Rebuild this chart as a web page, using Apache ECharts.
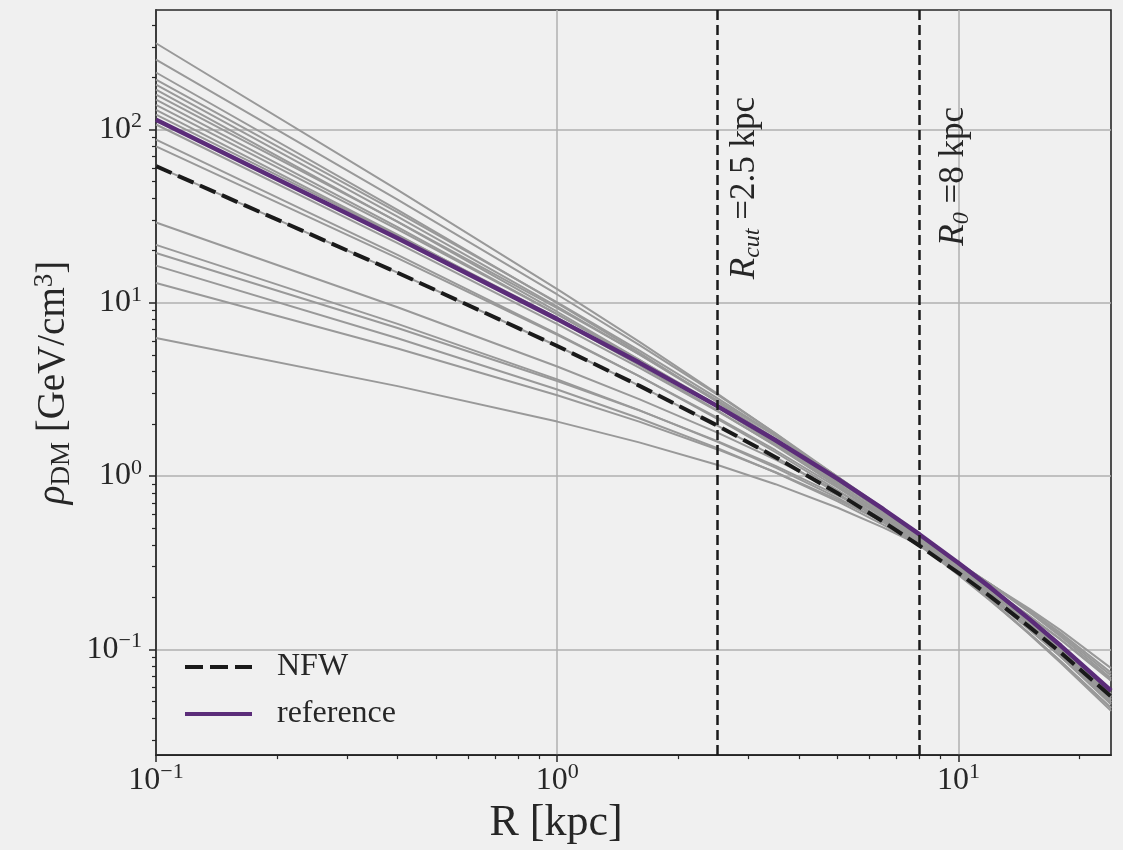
<!DOCTYPE html>
<html>
<head>
<meta charset="utf-8">
<script src="https://cdn.jsdelivr.net/npm/echarts@6/dist/echarts.min.js"></script>
<style>
  html, body { margin: 0; padding: 0; background: #f0f0f0; }
  #chart { width: 1123px; height: 850px; }
</style>
</head>
<body>
<div id="chart"></div>
<script>
// Radii (kpc) at which the profiles are sampled
const radii = [0.1, 0.4, 1, 1.6, 2.5, 3.5, 5, 6.5, 8, 10, 12, 15, 18, 24];

// Dark-matter density profiles (GeV/cm^3)
const nfwProfile = [61.5, 14.92, 5.633, 3.327, 1.962, 1.285, 0.7949, 0.5442, 0.396, 0.2760, 0.2021, 0.1351, 0.09556, 0.05346];
const referenceProfile = [114, 23.61, 8.05, 4.517, 2.542, 1.609, 0.962, 0.6432, 0.46, 0.3149, 0.2276, 0.1498, 0.1047, 0.05763];
const sampleProfiles = [
  [315, 44.86, 11.99, 5.965, 3.005, 1.756, 0.968, 0.6124, 0.42, 0.2757, 0.1929, 0.1224, 0.08324, 0.04409],
  [253, 39.42, 11.17, 5.720, 2.959, 1.763, 0.991, 0.6351, 0.44, 0.2917, 0.2057, 0.1317, 0.09016, 0.04819],
  [213.5, 34.39, 9.96, 5.156, 2.694, 1.616, 0.9154, 0.5896, 0.41, 0.2729, 0.1930, 0.1240, 0.08504, 0.04562],
  [194, 33.31, 10.06, 5.314, 2.829, 1.721, 0.988, 0.6425, 0.45, 0.3016, 0.2145, 0.1387, 0.09559, 0.05161],
  [181.5, 31.40, 9.52, 5.043, 2.690, 1.639, 0.9424, 0.6135, 0.43, 0.2884, 0.2052, 0.1327, 0.09157, 0.04948],
  [170, 29.34, 8.88, 4.700, 2.506, 1.526, 0.877, 0.5708, 0.40, 0.2683, 0.1909, 0.1235, 0.08510, 0.04598],
  [159, 29.43, 9.32, 5.047, 2.747, 1.698, 0.9906, 0.6514, 0.46, 0.3109, 0.2225, 0.1449, 0.1004, 0.05465],
  [149, 27.33, 8.61, 4.647, 2.523, 1.557, 0.9066, 0.5953, 0.42, 0.2836, 0.2028, 0.1319, 0.09141, 0.04969],
  [139, 26.52, 8.57, 4.684, 2.573, 1.601, 0.9400, 0.6210, 0.44, 0.2985, 0.2141, 0.1399, 0.09716, 0.05303],
  [130, 24.77, 8.00, 4.370, 2.400, 1.492, 0.8763, 0.5786, 0.41, 0.2780, 0.1995, 0.1302, 0.09050, 0.04938],
  [122, 24.51, 8.19, 4.552, 2.539, 1.597, 0.9486, 0.6314, 0.45, 0.3070, 0.2212, 0.1453, 0.1013, 0.05557],
  [107, 22.13, 7.54, 4.228, 2.378, 1.505, 0.8996, 0.6014, 0.43, 0.2943, 0.2127, 0.1400, 0.09783, 0.05384],
  [87.6, 18.92, 6.62, 3.770, 2.147, 1.372, 0.8275, 0.5568, 0.40, 0.2752, 0.1995, 0.1319, 0.09246, 0.05111],
  [80, 18.12, 6.54, 3.778, 2.183, 1.409, 0.8582, 0.5815, 0.42, 0.2904, 0.2115, 0.1405, 0.09879, 0.05488],
  [61.5, 14.92, 5.633, 3.327, 1.962, 1.285, 0.7949, 0.5442, 0.396, 0.2760, 0.2021, 0.1351, 0.09556, 0.05346],
  [29.1, 9.428, 4.291, 2.782, 1.787, 1.245, 0.8192, 0.5854, 0.44, 0.3167, 0.2377, 0.1636, 0.1181, 0.06807],
  [21.6, 7.557, 3.615, 2.403, 1.579, 1.118, 0.7482, 0.5409, 0.41, 0.2977, 0.2250, 0.1559, 0.1132, 0.06577],
  [19.4, 7.154, 3.540, 2.393, 1.597, 1.144, 0.7740, 0.5639, 0.43, 0.3141, 0.2384, 0.1661, 0.1210, 0.07069],
  [16.4, 6.248, 3.158, 2.157, 1.453, 1.048, 0.7137, 0.5229, 0.40, 0.2932, 0.2233, 0.1560, 0.1140, 0.06678],
  [13.0, 5.447, 2.927, 2.062, 1.429, 1.052, 0.7312, 0.5431, 0.42, 0.3112, 0.2388, 0.1684, 0.1239, 0.07333],
  [6.26, 3.304, 2.062, 1.564, 1.161, 0.8975, 0.6561, 0.5042, 0.40, 0.3042, 0.2381, 0.1718, 0.1285, 0.07788]
];

// Vertical marker lines
const markerValues = [2.5, 8];

// Axis ticks and labels
const xRange = [0.1, 24];
const yRange = [0.0245, 490];
const xTickValues = [0.1, 1, 10];
const xTickExponents = ['\u22121', '0', '1'];
const yTickValues = [0.1, 1, 10, 100];
const yTickExponents = ['\u22121', '0', '1', '2'];
const xMinorTicks = [0.2, 0.3, 0.4, 0.5, 0.6, 0.7, 0.8, 0.9, 2, 3, 4, 5, 6, 7, 8, 9, 20];
const yMinorTicks = [0.03, 0.04, 0.05, 0.06, 0.07, 0.08, 0.09, 0.2, 0.3, 0.4, 0.5, 0.6, 0.7, 0.8, 0.9,
                     2, 3, 4, 5, 6, 7, 8, 9, 20, 30, 40, 50, 60, 70, 80, 90, 200, 300, 400];

const FONT = 'Liberation Serif';
const INK = '#262626';
const NFW_COLOR = '#1a1a1a';
const REF_COLOR = '#5b2c79';

function toPairs(values) { return radii.map((r, i) => [r, values[i]]); }

function tickFormatter(values, exps) {
  return function (v) {
    for (let i = 0; i < values.length; i++) {
      if (Math.abs(v - values[i]) / values[i] < 1e-6) return '{b|10}{s|' + exps[i] + '}';
    }
    return '';
  };
}

const tickRich = {
  b: { fontFamily: FONT, fontSize: 32, color: INK, lineHeight: 38 },
  s: { fontFamily: FONT, fontSize: 22, color: INK, lineHeight: 21, verticalAlign: 'top' }
};

const chart = echarts.init(document.getElementById('chart'), null, { renderer: 'canvas' });

const series = [];
sampleProfiles.forEach((p, i) => {
  series.push({
    name: 'sample' + (i + 1),
    type: 'line',
    data: toPairs(p),
    symbol: 'none',
    silent: true,
    z: 2,
    lineStyle: { color: '#999999', width: 2 }
  });
});

series.push({
  name: 'reference',
  type: 'line',
  data: toPairs(referenceProfile),
  symbol: 'none',
  z: 3,
  itemStyle: { color: REF_COLOR },
  lineStyle: { color: REF_COLOR, width: 4.5 }
});

series.push({
  name: 'NFW',
  type: 'line',
  data: toPairs(nfwProfile),
  symbol: 'none',
  z: 4,
  itemStyle: { color: NFW_COLOR },
  lineStyle: { color: NFW_COLOR, width: 4, type: [17, 7] },
  markLine: {
    silent: true,
    symbol: ['none', 'none'],
    lineStyle: { color: NFW_COLOR, width: 2.5, type: [10, 5] },
    data: [
      {
        xAxis: markerValues[0],
        label: {
          show: true,
          position: 'insideEndBottom',
          distance: [87, 8],
          formatter: '{i|R}{sub|cut}{n| =2.5 kpc}'
        }
      },
      {
        xAxis: markerValues[1],
        label: {
          show: true,
          position: 'insideEndBottom',
          distance: [97, 14],
          formatter: '{i|R}{sub|0}{n| =8 kpc}'
        }
      }
    ],
    label: {
      color: INK,
      rich: {
        i: { fontFamily: FONT, fontStyle: 'italic', fontSize: 35, color: INK, lineHeight: 40 },
        sub: { fontFamily: FONT, fontStyle: 'italic', fontSize: 24, color: INK, lineHeight: 23, verticalAlign: 'bottom' },
        n: { fontFamily: FONT, fontSize: 35, color: INK, lineHeight: 40 }
      }
    }
  }
});

const option = {
  backgroundColor: '#f0f0f0',
  animation: false,
  grid: {
    left: 156, right: 12, top: 10, bottom: 92,
    show: true, borderColor: INK, borderWidth: 1.6, backgroundColor: '#f0f0f0'
  },
  legend: {
    data: [
      { name: 'NFW', icon: 'path://M0,0h18v4h-18z M25,0h18v4h-18z M50,0h17v4h-17z' },
      { name: 'reference', icon: 'path://M0,0h67v4h-67z' }
    ],
    orient: 'vertical',
    left: 185,
    top: 651,
    padding: 0,
    itemWidth: 67,
    itemHeight: 4,
    itemGap: 15,
    textStyle: { fontFamily: FONT, fontSize: 32, color: INK, lineHeight: 30, padding: [0, 0, 0, 20] }
  },
  xAxis: [
    {
      type: 'log',
      min: xRange[0], max: xRange[1],
      name: 'R [kpc]',
      nameLocation: 'middle',
      nameGap: 32,
      nameTextStyle: { fontFamily: FONT, fontSize: 44, color: INK, padding: [0, 155, 0, 0] },
      axisLine: { show: true, lineStyle: { color: INK, width: 1.6 } },
      axisTick: { show: true, length: 7, lineStyle: { color: INK, width: 1.5 }, customValues: xTickValues },
      axisLabel: { show: true, margin: 6, customValues: xTickValues, formatter: tickFormatter(xTickValues, xTickExponents), rich: tickRich },
      splitLine: { show: true, lineStyle: { color: '#b0b0b0', width: 1.5 } }
    },
    {
      type: 'log',
      min: xRange[0], max: xRange[1],
      position: 'bottom',
      axisLine: { show: false },
      axisTick: { show: true, length: 4, lineStyle: { color: INK, width: 1.2 }, customValues: xMinorTicks },
      axisLabel: { show: false },
      splitLine: { show: false }
    }
  ],
  yAxis: [
    {
      type: 'log',
      min: yRange[0], max: yRange[1],
      name: '{i|\u03c1}{sub|DM}{n| [GeV/cm}{sup|3}{n|]}',
      nameLocation: 'middle',
      nameGap: 80,
      nameTextStyle: {
        rich: {
          i: { fontFamily: FONT, fontStyle: 'italic', fontSize: 39, color: INK, lineHeight: 44 },
          sub: { fontFamily: FONT, fontSize: 27, color: INK, lineHeight: 24, verticalAlign: 'bottom' },
          sup: { fontFamily: FONT, fontSize: 27, color: INK, lineHeight: 24, verticalAlign: 'top' },
          n: { fontFamily: FONT, fontSize: 39, color: INK, lineHeight: 44 }
        }
      },
      axisLine: { show: true, lineStyle: { color: INK, width: 1.6 } },
      axisTick: { show: true, length: 7, lineStyle: { color: INK, width: 1.5 }, customValues: yTickValues },
      axisLabel: { show: true, margin: 14, customValues: yTickValues, formatter: tickFormatter(yTickValues, yTickExponents), rich: tickRich },
      splitLine: { show: true, lineStyle: { color: '#b0b0b0', width: 1.5 } }
    },
    {
      type: 'log',
      min: yRange[0], max: yRange[1],
      position: 'left',
      axisLine: { show: false },
      axisTick: { show: true, length: 4, lineStyle: { color: INK, width: 1.2 }, customValues: yMinorTicks },
      axisLabel: { show: false },
      splitLine: { show: false }
    }
  ],
  series: series
};

chart.setOption(option);
</script>
</body>
</html>
